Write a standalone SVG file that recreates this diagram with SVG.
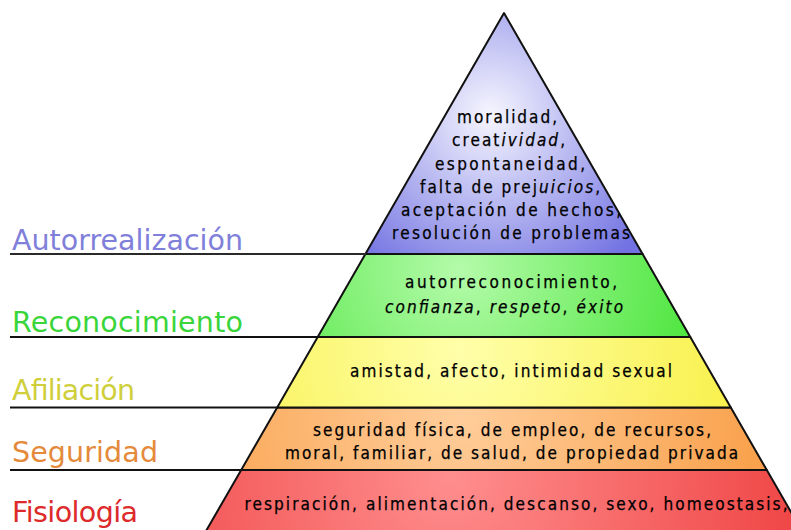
<svg xmlns="http://www.w3.org/2000/svg" width="791" height="530" viewBox="0 0 791 530">
<defs>
<radialGradient id="gBlue" gradientUnits="userSpaceOnUse" cx="490" cy="115" r="190">
<stop offset="0" stop-color="#f6f6ff"/><stop offset="1" stop-color="#7272e2"/>
</radialGradient>
<radialGradient id="gGreen" gradientUnits="userSpaceOnUse" cx="460" cy="270" r="260">
<stop offset="0" stop-color="#b4fbaa"/><stop offset="1" stop-color="#46e436"/>
</radialGradient>
<radialGradient id="gYellow" gradientUnits="userSpaceOnUse" cx="460" cy="350" r="290">
<stop offset="0" stop-color="#ffffaa"/><stop offset="1" stop-color="#f8f048"/>
</radialGradient>
<radialGradient id="gOrange" gradientUnits="userSpaceOnUse" cx="460" cy="415" r="310">
<stop offset="0" stop-color="#ffcd9a"/><stop offset="1" stop-color="#f9a04a"/>
</radialGradient>
<radialGradient id="gRed" gradientUnits="userSpaceOnUse" cx="450" cy="475" r="340">
<stop offset="0" stop-color="#ff8e8e"/><stop offset="1" stop-color="#f04848"/>
</radialGradient>
</defs>
<style>
.band{stroke:#111;stroke-width:2;stroke-linejoin:round}
.sep{stroke:#111;stroke-width:2.2;fill:none}
.lbl{font-family:"DejaVu Sans","Liberation Sans",sans-serif;font-size:28.5px}
.t{font-family:"DejaVu Sans Condensed","DejaVu Sans",sans-serif;font-stretch:condensed;font-size:17px;fill:#000;stroke:#000;stroke-width:0.25;text-anchor:middle}
.i{font-style:italic}
</style>
<rect width="791" height="530" fill="#fff"/>

<g id="fisiologia">
<polygon class="band" fill="url(#gRed)" points="241.2,470 766.8,470 802,531 206,531"/>
<text class="t" x="516" y="510" textLength="543">respiración, alimentación, descanso, sexo, homeostasis,</text>
</g>
<g id="seguridad">
<polygon class="band" fill="url(#gOrange)" points="277.2,407.5 730.8,407.5 766.8,470 241.2,470"/>
<text class="t" x="512" y="436" textLength="398">seguridad física, de empleo, de recursos,</text>
<text class="t" x="511.5" y="459" textLength="453">moral, familiar, de salud, de propiedad privada</text>
</g>
<g id="afiliacion">
<polygon class="band" fill="url(#gYellow)" points="317.7,337 690.3,337 730.8,407.5 277.2,407.5"/>
<text class="t" x="511" y="377" textLength="322">amistad, afecto, intimidad sexual</text>
</g>
<g id="reconocimiento">
<polygon class="band" fill="url(#gGreen)" points="365.4,254 642.6,254 690.3,337 317.7,337"/>
<text class="t" x="511" y="288" textLength="212">autorreconocimiento,</text>
<text class="t" x="504" y="313" textLength="238"><tspan class="i">confianza</tspan>, <tspan class="i">respeto</tspan>, <tspan class="i">éxito</tspan></text>
</g>
<g id="autorrealizacion">
<polygon class="band" fill="url(#gBlue)" points="504,13 642.6,254 365.4,254"/>
<text class="t" x="507" y="123" textLength="100">moralidad,</text>
<text class="t" x="508.5" y="146" textLength="113">creat<tspan class="i">ividad</tspan>,</text>
<text class="t" x="510" y="170" textLength="150">espontaneidad,</text>
<text class="t" x="510" y="193" textLength="180">falta de prej<tspan class="i">uicios</tspan>,</text>
<text class="t" x="511" y="216" textLength="220">aceptación de hechos,</text>
<text class="t" x="511" y="239" textLength="238">resolución de problemas</text>
</g>

<g id="lines">
<line class="sep" x1="10" y1="254" x2="366" y2="254" stroke-width="2.8" style="stroke:#2a2a2a"/>
<line class="sep" x1="10" y1="337" x2="318" y2="337"/>
<line class="sep" x1="10" y1="407.5" x2="278" y2="407.5"/>
<line class="sep" x1="10" y1="470" x2="242" y2="470"/>
</g>

<g id="labels">
<text class="lbl" x="12" y="250" fill="#8080da" textLength="231">Autorrealización</text>
<text class="lbl" x="12" y="332" fill="#3ad53a" textLength="231">Reconocimiento</text>
<text class="lbl" x="12" y="400" fill="#cfcf3c" textLength="123">Afiliación</text>
<text class="lbl" x="12" y="462" fill="#e48a3a" textLength="146">Seguridad</text>
<text class="lbl" x="12" y="522" fill="#dd2a2a" textLength="126">Fisiología</text>
</g>
</svg>
